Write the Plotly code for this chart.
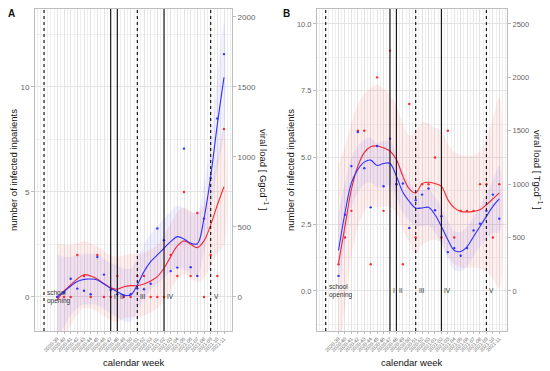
import plotly.graph_objects as go

# ---------------- data ----------------
week_labels = ["2020-39", "2020-40", "2020-41", "2020-42", "2020-43", "2020-44", "2020-45",
               "2020-46", "2020-47", "2020-48", "2020-49", "2020-50", "2020-51", "2020-52",
               "2020-53", "2021-01", "2021-02", "2021-03", "2021-04", "2021-05", "2021-06",
               "2021-07", "2021-08", "2021-09", "2021-10", "2021-11"]
week_pos = list(range(2, 28))

# Panel A
inpat_A = [0, 0, 0, 2, 1, 0, 2, 0, 0, 1, 0, 0, 1, 1, 0, 0, 0, 2, 1, 5, 1, 4, 0, 2, 1, 8]
viral_A = [0, 30, 130, 60, 45, 20, 285, 160, 50, 20, 10, 20, 60, 55, 95, 490, 405, 185,
           210, 1060, 213, 150, 560, 850, 1275, 1735]
fit_inpat_A = [-0.14, 0.29, 0.57, 0.86, 1.06, 1.0, 0.86, 0.63, 0.44, 0.37, 0.49, 0.54, 0.54,
               0.62, 0.76, 0.97, 1.37, 1.92, 2.43, 2.67, 2.51, 2.35, 2.67, 3.43, 4.38, 5.25]
se_inpat_A = [2.7, 2.2, 1.9, 1.7, 1.6, 1.55, 1.55, 1.55, 1.55, 1.55, 1.5, 1.5, 1.5, 1.5, 1.5,
              1.5, 1.55, 1.6, 1.6, 1.6, 1.6, 1.65, 1.75, 1.95, 2.3, 2.8]
fit_viral_A = [2, 38, 78, 110, 126, 128, 121, 93, 62, 38, 14, 14, 86, 181, 252, 300, 348, 395,
               431, 414, 385, 380, 562, 860, 1233, 1569]
se_viral_A = [300, 250, 210, 190, 180, 180, 180, 180, 180, 185, 190, 190, 190, 195, 200, 205,
              210, 215, 220, 220, 220, 225, 240, 270, 320, 400]

# Panel B
inpat_B = [1, 2, 3, 6, 6, 1, 8, 3, 9, 4, 1, 7, 2, 4, 4, 5, 2, 6, 2, 3, 3, 3, 4, 4, 2, 4]
viral_B = [141, 714, 1169, 1488, 1150, 783, 1357, 980, 1426, 1000, 1006, 589, 850, 902, 959,
           755, 700, 364, 401, 329, 401, 567, 630, 750, 902, 677]
fit_inpat_B = [1.04, 2.42, 3.80, 4.67, 5.18, 5.40, 5.43, 5.36, 5.24, 4.92, 4.30, 3.82, 3.67,
               4.02, 4.07, 4.02, 3.92, 3.42, 3.11, 2.98, 2.96, 2.98, 3.04, 3.23, 3.45, 3.67]
se_inpat_B = [3.7, 3.0, 2.5, 2.3, 2.2, 2.2, 2.3, 2.2, 2.1, 2.0, 2.0, 2.0, 2.3, 2.3, 2.2, 2.1,
              2.1, 2.1, 2.1, 2.1, 2.1, 2.1, 2.2, 2.5, 3.0, 3.6]
fit_viral_B = [379, 730, 1012, 1137, 1206, 1225, 1175, 1194, 1194, 1074, 924, 839, 777, 777,
               783, 714, 604, 479, 379, 369, 416, 510, 604, 698, 792, 862]
se_viral_B = [350, 280, 240, 220, 210, 210, 210, 210, 210, 200, 190, 180, 170, 170, 170, 170,
              170, 175, 180, 185, 185, 185, 190, 210, 250, 310]

event_pos = [0, 10, 11, 14, 18, 25]
event_labels = ["school<br>opening", "I", "II", "III", "IV", "V"]
event_dash = ["3px,3px", "solid", "solid", "3px,3px", "solid", "3px,3px"]

# ---------------- figure ----------------
W, H = 550, 371
FONT = "Liberation Sans, Arial, sans-serif"
RED = "#ff2a2a"
BLUE = "#3030ff"

fig = go.Figure()

panels = [
    dict(xa="x", ya="y", ya2="y2", inpat=inpat_A, viral=viral_A, fi=fit_inpat_A, si=se_inpat_A,
         fv=fit_viral_A, sv=se_viral_A),
    dict(xa="x2", ya="y3", ya2="y4", inpat=inpat_B, viral=viral_B, fi=fit_inpat_B, si=se_inpat_B,
         fv=fit_viral_B, sv=se_viral_B),
]

for p in panels:
    xs = week_pos
    up = [f + s for f, s in zip(p["fi"], p["si"])]
    lo = [f - s for f, s in zip(p["fi"], p["si"])]
    fig.add_trace(go.Scatter(x=xs + xs[::-1], y=up + lo[::-1], fill="toself",
                             fillcolor="rgba(255,0,0,0.065)", line=dict(width=0, shape="spline"),
                             mode="lines", hoverinfo="skip", showlegend=False,
                             xaxis=p["xa"], yaxis=p["ya"]))
    upv = [f + s for f, s in zip(p["fv"], p["sv"])]
    lov = [f - s for f, s in zip(p["fv"], p["sv"])]
    fig.add_trace(go.Scatter(x=xs + xs[::-1], y=upv + lov[::-1], fill="toself",
                             fillcolor="rgba(0,0,255,0.06)", line=dict(width=0, shape="spline"),
                             mode="lines", hoverinfo="skip", showlegend=False,
                             xaxis=p["xa"], yaxis=p["ya2"]))
    fig.add_trace(go.Scatter(x=xs, y=p["fi"], mode="lines", line=dict(color=RED, width=1.1, shape="spline"),
                             showlegend=False, xaxis=p["xa"], yaxis=p["ya"]))
    fig.add_trace(go.Scatter(x=xs, y=p["fv"], mode="lines", line=dict(color=BLUE, width=1.1, shape="spline"),
                             showlegend=False, xaxis=p["xa"], yaxis=p["ya2"]))
    fig.add_trace(go.Scatter(x=xs, y=p["inpat"], mode="markers", marker=dict(color=RED, size=2.4),
                             showlegend=False, xaxis=p["xa"], yaxis=p["ya"]))
    fig.add_trace(go.Scatter(x=xs, y=p["viral"], mode="markers", marker=dict(color=BLUE, size=2.4),
                             showlegend=False, xaxis=p["xa"], yaxis=p["ya2"]))

    for pos, lab, dash in zip(event_pos, event_labels, event_dash):
        fig.add_shape(type="line", xref=p["xa"], yref=p["ya"] + " domain", x0=pos, x1=pos, y0=0, y1=1,
                      line=dict(color="#1a1a1a", width=1.2, dash=dash), layer="above")
        fig.add_annotation(x=pos, y=0, xref=p["xa"], yref=p["ya"], text=lab, showarrow=False,
                           xanchor="left", yanchor="middle", xshift=1, align="left",
                           font=dict(size=6.5, color="#333333", family=FONT))

GRID = "#e3e3e3"
GRID_MINOR = "#efefef"
BORDER = "#bdbdbd"

xdomA = [35 / W, 232 / W]
xdomB = [317 / W, 507 / W]
ydom = [1 - 331 / H, 1 - 9 / H]

def xaxis_cfg(dom, anchor):
    return dict(domain=dom, anchor=anchor, range=[-1.35, 28.2], tickmode="array",
                tickvals=week_pos, ticktext=week_labels, tickangle=-45,
                tickfont=dict(size=5, color="#666666", family=FONT),
                showgrid=True, gridcolor=GRID, gridwidth=1, zeroline=False,
                minor=dict(tickmode="linear", tick0=0, dtick=0.5, showgrid=True,
                           gridcolor=GRID_MINOR, gridwidth=1, ticks=""),
                ticks="outside", ticklen=2, tickcolor=BORDER, automargin=False,
                showline=True, linecolor=BORDER, linewidth=1, mirror=True)

def yleft_cfg(anchor, rng, dtick, fmt, size):
    return dict(domain=ydom, anchor=anchor, range=rng, tickmode="linear", tick0=0, dtick=dtick,
                tickformat=fmt, tickfont=dict(size=size, color="#666666", family=FONT),
                showgrid=True, gridcolor=GRID, zeroline=False, automargin=False,
                minor=dict(tickmode="linear", tick0=0, dtick=dtick / 2, showgrid=True,
                           gridcolor=GRID_MINOR, ticks=""),
                ticks="outside", ticklen=3, tickcolor=BORDER,
                showline=True, linecolor=BORDER, linewidth=1, mirror=True)

def yright_cfg(anchor, over, rng, dtick, size):
    return dict(anchor=anchor, overlaying=over, side="right", range=rng, tickmode="linear",
                tick0=0, dtick=dtick, tickfont=dict(size=size, color="#666666", family=FONT),
                showgrid=False, zeroline=False, ticks="outside", ticklen=3, tickcolor=BORDER,
                showline=True, linecolor=BORDER, linewidth=1, automargin=False)

fig.update_layout(
    width=W, height=H, margin=dict(l=0, r=0, t=0, b=0, autoexpand=False),
    paper_bgcolor="white", plot_bgcolor="white",
    font=dict(family=FONT, color="#222222"),
    xaxis=xaxis_cfg(xdomA, "y"),
    xaxis2=xaxis_cfg(xdomB, "y3"),
    yaxis=yleft_cfg("x", [-1.62, 13.71], 5, "d", 8),
    yaxis2=yright_cfg("x", "y", [-243, 2057], 500, 8),
    yaxis3=yleft_cfg("x2", [-1.5, 10.56], 2.5, ".1f", 7.5),
    yaxis4=yright_cfg("x2", "y3", [-375, 2640], 500, 7.5),
    showlegend=False,
)

def pa(text, x, y, angle=0, size=9.5, bold=False):
    fig.add_annotation(text=("<b>%s</b>" % text) if bold else text, x=x / W, y=1 - y / H,
                       xref="paper", yref="paper", showarrow=False, textangle=angle,
                       xanchor="center", yanchor="middle",
                       font=dict(size=size, color="#111111", family=FONT))

pa("A", 11, 13, size=10, bold=True)
pa("B", 286, 13, size=10, bold=True)
pa("number of infected inpatients", 13, 170, angle=-90)
pa("number of infected inpatients", 290, 170, angle=-90)
pa("viral load [ Ggcd<sup>−1</sup> ]", 264, 170, angle=90)
pa("viral load [ Tgcd<sup>−1</sup> ]", 538, 170, angle=90)
pa("calendar week", 133.5, 362)
pa("calendar week", 412, 362)

fig.write_html("out.html", config={"displayModeBar": False},
               post_script="document.body.style.margin='0px';document.body.style.padding='0px';")
